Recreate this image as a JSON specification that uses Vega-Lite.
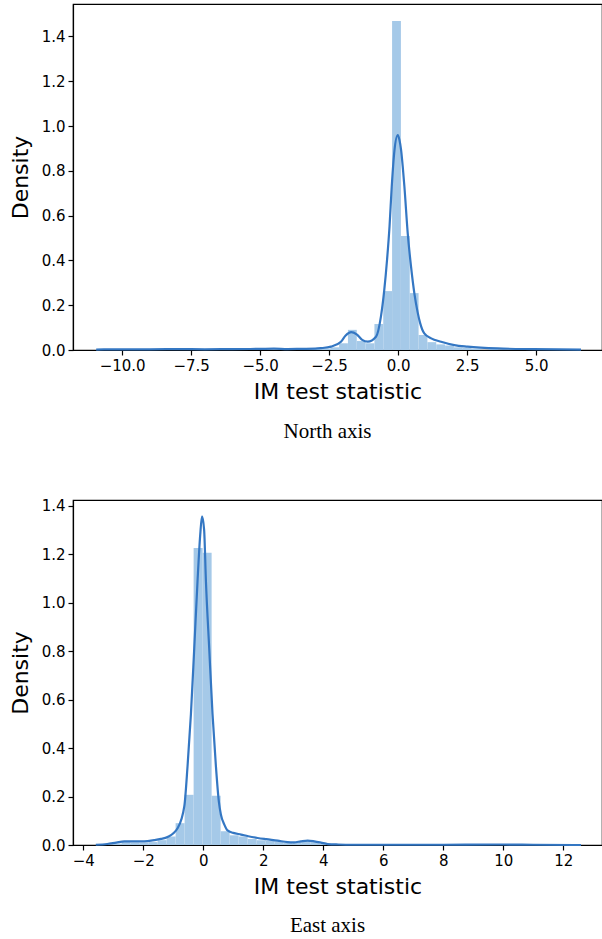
{
  "$schema": "https://vega.github.io/schema/vega-lite/v6.json",
  "padding": {"left": 8, "top": 3, "right": 0, "bottom": 0},
  "spacing": 54,
  "config": {
    "view": {"stroke": "#000000", "strokeWidth": 1.2},
    "axis": {
      "grid": false,
      "domainColor": "#000000",
      "domainWidth": 1.2,
      "tickColor": "#000000",
      "tickWidth": 1.2,
      "tickSize": 5,
      "labelColor": "#000000",
      "labelFont": "DejaVu Sans",
      "labelFontSize": 15,
      "labelPadding": 3,
      "titleFont": "DejaVu Sans",
      "titleFontSize": 22,
      "titleFontWeight": "normal",
      "titleColor": "#000000"
    },
    "title": {"font": "Liberation Serif", "fontSize": 21, "fontWeight": "normal", "color": "#000000"}
  },
  "datasets": {
    "north_hist": [
      {"lo": -4.057, "hi": -3.737, "density": 0.004},
      {"lo": -3.097, "hi": -2.777, "density": 0.005},
      {"lo": -2.777, "hi": -2.457, "density": 0.006},
      {"lo": -2.457, "hi": -2.137, "density": 0.012},
      {"lo": -2.137, "hi": -1.817, "density": 0.03},
      {"lo": -1.817, "hi": -1.497, "density": 0.09},
      {"lo": -1.497, "hi": -1.177, "density": 0.04},
      {"lo": -1.177, "hi": -0.857, "density": 0.03},
      {"lo": -0.857, "hi": -0.537, "density": 0.116},
      {"lo": -0.537, "hi": -0.217, "density": 0.263},
      {"lo": -0.217, "hi": 0.103, "density": 1.469},
      {"lo": 0.103, "hi": 0.423, "density": 0.509},
      {"lo": 0.423, "hi": 0.743, "density": 0.254},
      {"lo": 0.743, "hi": 1.063, "density": 0.067},
      {"lo": 1.063, "hi": 1.383, "density": 0.035},
      {"lo": 1.383, "hi": 1.703, "density": 0.025},
      {"lo": 1.703, "hi": 2.023, "density": 0.02},
      {"lo": 2.023, "hi": 2.343, "density": 0.012},
      {"lo": 2.343, "hi": 2.663, "density": 0.01},
      {"lo": 2.663, "hi": 2.983, "density": 0.006},
      {"lo": 3.303, "hi": 3.623, "density": 0.005},
      {"lo": 4.263, "hi": 4.583, "density": 0.004}
    ],
    "north_kde": [
      {"x": -10.94, "density": 0.002},
      {"x": -10.0, "density": 0.003},
      {"x": -9.0, "density": 0.003},
      {"x": -8.0, "density": 0.004},
      {"x": -7.0, "density": 0.003},
      {"x": -6.0, "density": 0.004},
      {"x": -5.0, "density": 0.005},
      {"x": -4.5, "density": 0.006},
      {"x": -4.0, "density": 0.004},
      {"x": -3.5, "density": 0.005},
      {"x": -3.0, "density": 0.006},
      {"x": -2.8, "density": 0.008},
      {"x": -2.43, "density": 0.015},
      {"x": -2.07, "density": 0.037},
      {"x": -1.9, "density": 0.065},
      {"x": -1.7, "density": 0.08},
      {"x": -1.5, "density": 0.07},
      {"x": -1.3, "density": 0.045},
      {"x": -1.1, "density": 0.037},
      {"x": -0.8, "density": 0.059},
      {"x": -0.62, "density": 0.15},
      {"x": -0.5, "density": 0.268},
      {"x": -0.4, "density": 0.402},
      {"x": -0.31, "density": 0.551},
      {"x": -0.23, "density": 0.729},
      {"x": -0.13, "density": 0.893},
      {"x": -0.01, "density": 0.96},
      {"x": 0.05, "density": 0.938},
      {"x": 0.11, "density": 0.893},
      {"x": 0.17, "density": 0.818},
      {"x": 0.23, "density": 0.729},
      {"x": 0.35, "density": 0.521},
      {"x": 0.47, "density": 0.372},
      {"x": 0.59, "density": 0.253},
      {"x": 0.71, "density": 0.168},
      {"x": 0.8, "density": 0.12},
      {"x": 0.95, "density": 0.074},
      {"x": 1.2, "density": 0.052},
      {"x": 1.56, "density": 0.037},
      {"x": 2.04, "density": 0.022},
      {"x": 2.52, "density": 0.015},
      {"x": 3.6, "density": 0.007},
      {"x": 4.9, "density": 0.004},
      {"x": 6.63, "density": 0.002}
    ],
    "east_hist": [
      {"lo": -3.02, "hi": -2.72, "density": 0.006},
      {"lo": -2.72, "hi": -2.42, "density": 0.012},
      {"lo": -2.42, "hi": -2.12, "density": 0.01},
      {"lo": -2.12, "hi": -1.82, "density": 0.01},
      {"lo": -1.82, "hi": -1.52, "density": 0.012},
      {"lo": -1.52, "hi": -1.22, "density": 0.02},
      {"lo": -1.22, "hi": -0.92, "density": 0.035},
      {"lo": -0.92, "hi": -0.62, "density": 0.09},
      {"lo": -0.62, "hi": -0.32, "density": 0.207},
      {"lo": -0.32, "hi": -0.02, "density": 1.225},
      {"lo": -0.02, "hi": 0.28, "density": 1.205},
      {"lo": 0.28, "hi": 0.58, "density": 0.203},
      {"lo": 0.58, "hi": 0.88, "density": 0.057},
      {"lo": 0.88, "hi": 1.18, "density": 0.04},
      {"lo": 1.18, "hi": 1.48, "density": 0.035},
      {"lo": 1.48, "hi": 1.78, "density": 0.025},
      {"lo": 1.78, "hi": 2.08, "density": 0.02},
      {"lo": 2.08, "hi": 2.38, "density": 0.018},
      {"lo": 2.38, "hi": 2.68, "density": 0.015},
      {"lo": 2.68, "hi": 2.98, "density": 0.01},
      {"lo": 2.98, "hi": 3.28, "density": 0.012},
      {"lo": 3.28, "hi": 3.58, "density": 0.02},
      {"lo": 3.58, "hi": 3.88, "density": 0.012},
      {"lo": 3.88, "hi": 4.18, "density": 0.004}
    ],
    "east_kde": [
      {"x": -3.58, "density": 0.001},
      {"x": -3.2, "density": 0.004},
      {"x": -2.9, "density": 0.01},
      {"x": -2.63, "density": 0.015},
      {"x": -2.3, "density": 0.015},
      {"x": -1.97, "density": 0.015},
      {"x": -1.63, "density": 0.02},
      {"x": -1.41, "density": 0.025},
      {"x": -1.19, "density": 0.033},
      {"x": -0.85, "density": 0.07},
      {"x": -0.63, "density": 0.16},
      {"x": -0.52, "density": 0.33},
      {"x": -0.41, "density": 0.54},
      {"x": -0.3, "density": 0.81},
      {"x": -0.19, "density": 1.088},
      {"x": -0.1, "density": 1.28},
      {"x": -0.04, "density": 1.356},
      {"x": 0.03, "density": 1.3},
      {"x": 0.09, "density": 1.088},
      {"x": 0.2, "density": 0.81},
      {"x": 0.31, "density": 0.54},
      {"x": 0.42, "density": 0.33},
      {"x": 0.52, "density": 0.18},
      {"x": 0.59, "density": 0.125},
      {"x": 0.7, "density": 0.085},
      {"x": 0.81, "density": 0.06},
      {"x": 1.0, "density": 0.05},
      {"x": 1.26, "density": 0.043},
      {"x": 1.5, "density": 0.036},
      {"x": 1.81, "density": 0.029},
      {"x": 2.1, "density": 0.024},
      {"x": 2.48, "density": 0.018},
      {"x": 2.81, "density": 0.012},
      {"x": 3.03, "density": 0.011},
      {"x": 3.25, "density": 0.015},
      {"x": 3.48, "density": 0.018},
      {"x": 3.7, "density": 0.015},
      {"x": 3.92, "density": 0.01},
      {"x": 4.15, "density": 0.004},
      {"x": 4.5, "density": 0.002},
      {"x": 5.0, "density": 0.001},
      {"x": 6.0, "density": 0.001},
      {"x": 8.0, "density": 0.001},
      {"x": 10.0, "density": 0.002},
      {"x": 11.0, "density": 0.001},
      {"x": 12.59, "density": 0.0}
    ]
  },
  "vconcat": [
    {
      "width": 529,
      "height": 346,
      "title": {"text": "North axis", "orient": "bottom", "anchor": "middle", "offset": 19, "dx": -10},
      "layer": [
        {
          "data": {"name": "north_hist"},
          "mark": {"type": "rect", "color": "#a5c9e8", "opacity": 1},
          "encoding": {
            "x": {"field": "lo", "type": "quantitative", "scale": {"domain": [-11.78, 7.39], "nice": false, "zero": false},
                  "axis": {"values": [-10, -7.5, -5, -2.5, 0, 2.5, 5], "format": ".1f", "title": "IM test statistic", "titlePadding": 8}},
            "x2": {"field": "hi"},
            "y": {"field": "density", "type": "quantitative", "scale": {"domain": [0, 1.545], "nice": false},
                  "axis": {"values": [0, 0.2, 0.4, 0.6, 0.8, 1.0, 1.2, 1.4], "format": ".1f", "title": "Density", "titlePadding": 9}},
            "y2": {"datum": 0}
          }
        },
        {
          "data": {"name": "north_kde"},
          "mark": {"type": "line", "color": "#3477c3", "strokeWidth": 2.2, "interpolate": "monotone"},
          "encoding": {
            "x": {"field": "x", "type": "quantitative"},
            "y": {"field": "density", "type": "quantitative"}
          }
        }
      ]
    },
    {
      "width": 529,
      "height": 345,
      "title": {"text": "East axis", "orient": "bottom", "anchor": "middle", "offset": 18, "dx": -10},
      "layer": [
        {
          "data": {"name": "east_hist"},
          "mark": {"type": "rect", "color": "#a5c9e8", "opacity": 1},
          "encoding": {
            "x": {"field": "lo", "type": "quantitative", "scale": {"domain": [-4.34, 13.29], "nice": false, "zero": false},
                  "axis": {"values": [-4, -2, 0, 2, 4, 6, 8, 10, 12], "format": "d", "title": "IM test statistic", "titlePadding": 8}},
            "x2": {"field": "hi"},
            "y": {"field": "density", "type": "quantitative", "scale": {"domain": [0, 1.423], "nice": false},
                  "axis": {"values": [0, 0.2, 0.4, 0.6, 0.8, 1.0, 1.2, 1.4], "format": ".1f", "title": "Density", "titlePadding": 9}},
            "y2": {"datum": 0}
          }
        },
        {
          "data": {"name": "east_kde"},
          "mark": {"type": "line", "color": "#3477c3", "strokeWidth": 2.2, "interpolate": "monotone"},
          "encoding": {
            "x": {"field": "x", "type": "quantitative"},
            "y": {"field": "density", "type": "quantitative"}
          }
        }
      ]
    }
  ]
}
